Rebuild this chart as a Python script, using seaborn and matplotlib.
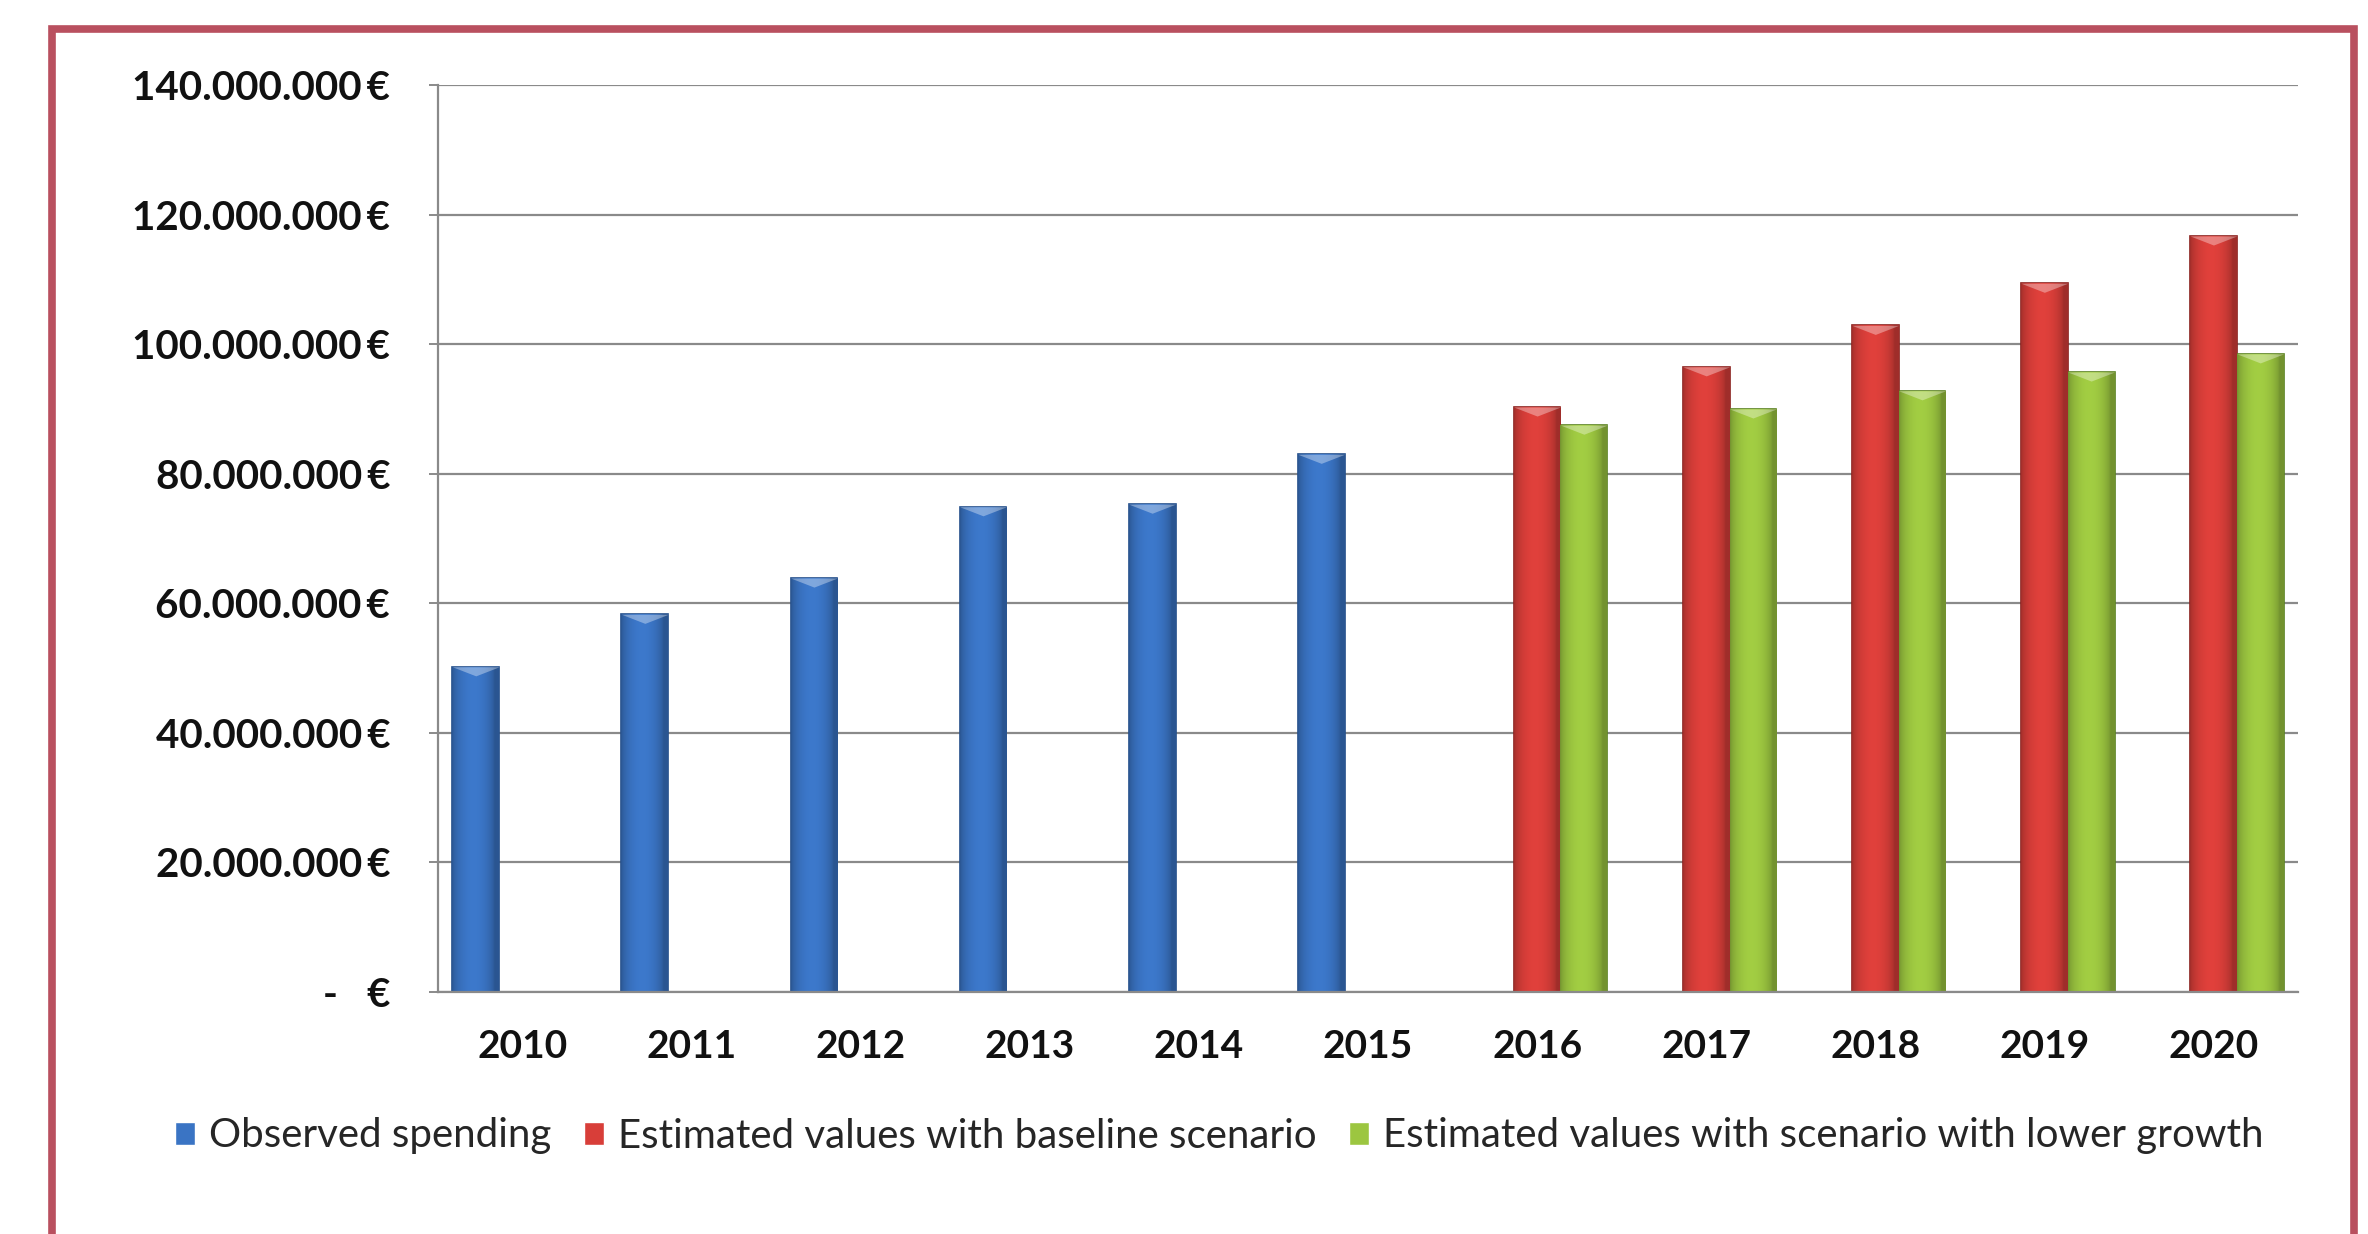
import numpy as np
import pandas as pd
import matplotlib
matplotlib.use("Agg")
import matplotlib.pyplot as plt
import seaborn as sns
from matplotlib.ticker import FuncFormatter
from matplotlib.patches import Rectangle
from matplotlib.colors import to_rgb

years = ["2010", "2011", "2012", "2013", "2014", "2015", "2016", "2017", "2018", "2019", "2020"]
observed = [50.2e6, 58.3e6, 63.9e6, 74.9e6, 75.3e6, 83.0e6, np.nan, np.nan, np.nan, np.nan, np.nan]
baseline = [np.nan] * 6 + [90.3e6, 96.5e6, 102.9e6, 109.4e6, 116.7e6]
lower = [np.nan] * 6 + [87.5e6, 90.0e6, 92.8e6, 95.7e6, 98.5e6]
series_names = ["Observed spending",
                "Estimated values with baseline scenario",
                "Estimated values with scenario with lower growth"]
colors = ["#3A74C4", "#D83E39", "#9CC640"]
edges = ["#234E8A", "#8A201C", "#5A8220"]
yticks = [0, 20e6, 40e6, 60e6, 80e6, 100e6, 120e6, 140e6]

rows = []
for name, vals in zip(series_names, [observed, baseline, lower]):
    for y, v in zip(years, vals):
        rows.append({"year": y, "series": name, "value": v})
df = pd.DataFrame(rows)

sns.set_theme(style="white")
plt.rcParams["font.family"] = ["Lato", "DejaVu Sans"]

fig = plt.figure(figsize=(23.68, 12.34), dpi=100)
ax = fig.add_axes([438 / 2368, 1 - 992 / 1234, (2298 - 438) / 2368, (992 - 85) / 1234])

sns.barplot(data=df, x="year", y="value", hue="series", order=years,
            hue_order=series_names, palette=colors, saturation=1, dodge=True,
            width=0.83, gap=0, ax=ax, legend=True, errorbar=None)

# cylindrical shading, clipped to each bar drawn by seaborn
t = np.linspace(0, 1, 64)
shade = 0.74 + 0.30 * np.sin(np.pi * np.clip(t * 1.1, 0, 1)) ** 0.6
for cont, ec, base in zip(ax.containers, edges, colors):
    rgb = np.array(to_rgb(base))
    grad = np.clip(rgb[None, :] * shade[:, None], 0, 1)[None, :, :]
    for bar in cont:
        h = bar.get_height()
        bar.set_edgecolor(ec)
        bar.set_linewidth(1.2)
        if not np.isfinite(h) or h == 0:
            continue
        x0, w = bar.get_x(), bar.get_width()
        im = ax.imshow(grad, extent=[x0, x0 + w, 0, h], aspect="auto",
                       zorder=bar.get_zorder() + 0.1, interpolation="bilinear")
        im.set_clip_path(bar)
        # lighter cap at the top of the bar
        ax.fill_between([x0, x0 + w / 2, x0 + w], [h, h - 1.4e6, h], [h, h, h],
                        color="white", alpha=0.35, lw=0, zorder=bar.get_zorder() + 0.2)

ax.set_xlim(-0.5, len(years) - 0.5)
ax.set_ylim(0, 140e6)
ax.set_yticks(yticks)
ax.yaxis.set_major_formatter(FuncFormatter(
    lambda v, p: "-   €" if v == 0 else f"{int(round(v)):,}".replace(",", ".") + "\u2009€"))
ax.set_xlabel("")
ax.set_ylabel("")
ax.grid(axis="y", color="#8a8a8a", linewidth=1.6)
ax.set_axisbelow(True)
for s in ["top", "right"]:
    ax.spines[s].set_visible(False)
for s in ["left", "bottom"]:
    ax.spines[s].set_color("#8a8a8a")
    ax.spines[s].set_linewidth(1.6)
    ax.spines[s].set_zorder(5)
ax.tick_params(axis="y", which="both", left=True, length=6.5, width=1.4,
               color="#8a8a8a", pad=28, labelsize=29)
ax.tick_params(axis="x", length=0, pad=27, labelsize=28)
for lbl in ax.get_yticklabels() + ax.get_xticklabels():
    lbl.set_fontweight("bold")
    lbl.set_color("#111111")

handles, labels = ax.get_legend_handles_labels()
ax.get_legend().remove()
fig.legend(handles, labels, loc="center", bbox_to_anchor=(1219 / 2368, 1 - 1136 / 1234),
           ncol=3, frameon=False, fontsize=29, handlelength=0.5, handleheight=0.5,
           handletextpad=0.35, columnspacing=0.8)

# outer red frame
frame = Rectangle((52 / 2368, -0.05), (2354 - 52) / 2368, 1.05 - 29 / 1234,
                  transform=fig.transFigure, fill=False, edgecolor="#B9505F",
                  linewidth=5.5, clip_on=False)
fig.patches.append(frame)

fig.savefig("out.png", dpi=100, facecolor="white")
